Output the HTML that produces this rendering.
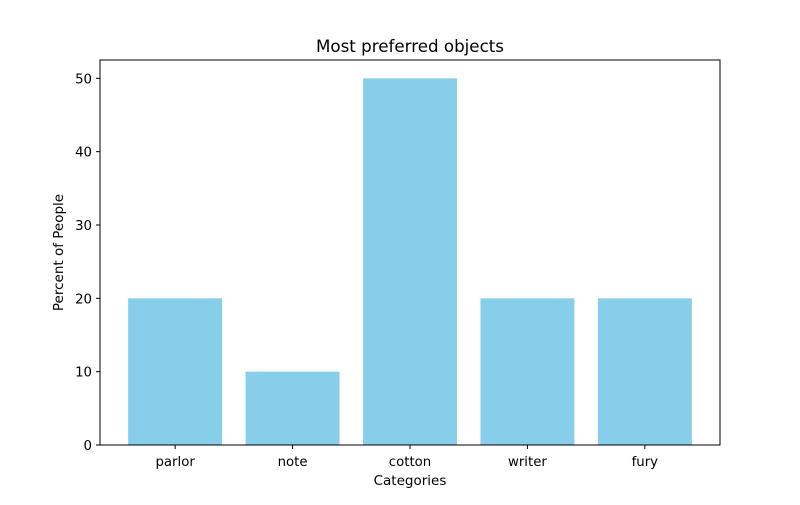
<!DOCTYPE html>
<html><head><meta charset="utf-8"><style>
body{margin:0;background:#fff;}
svg text{font-family:"DejaVu Sans","Liberation Sans",sans-serif;fill:#000;}
</style></head><body>
<svg id="chart" width="800" height="500">
<rect width="800" height="500" fill="#fff"/>
<text x="410" y="52" font-size="16.7" text-anchor="middle">Most preferred objects</text>
<text x="410" y="485" font-size="13.5" text-anchor="middle">Categories</text>
<text transform="translate(63,252.5) rotate(-90)" font-size="13.5" text-anchor="middle">Percent of People</text>
<g id="bars"></g>
<g id="ticks"></g>
<rect x="100" y="60" width="620" height="385" fill="none" stroke="#000" stroke-width="1"/>
</svg>
<script>
const categories = ["parlor","note","cotton","writer","fury"];
const values = [20,10,50,20,20];
const yTicks = [0,10,20,30,40,50];

const L=100,R=720,T=60,B=445;
const ymax=Math.max(...values)*1.05;
const xmin=-0.64,xmax=categories.length-1+0.64;
const xs=v=>L+(v-xmin)/(xmax-xmin)*(R-L);
const ys=v=>B-v/ymax*(B-T);
const NS="http://www.w3.org/2000/svg";
const bars=document.getElementById('bars'), ticks=document.getElementById('ticks');
const bw=0.8*(R-L)/(xmax-xmin);
categories.forEach((c,i)=>{
  const r=document.createElementNS(NS,'rect');
  r.setAttribute('x',xs(i)-bw/2);r.setAttribute('y',ys(values[i]));
  r.setAttribute('width',bw);r.setAttribute('height',B-ys(values[i]));
  r.setAttribute('fill','#87ceeb');
  
  
  bars.appendChild(r);
  const l=document.createElementNS(NS,'line');
  l.setAttribute('x1',xs(i));l.setAttribute('x2',xs(i));l.setAttribute('y1',B);l.setAttribute('y2',B+4);l.setAttribute('stroke','#000');
  ticks.appendChild(l);
  const t=document.createElementNS(NS,'text');
  t.setAttribute('x',xs(i));t.setAttribute('y',B+21);t.setAttribute('font-size','13.3');t.setAttribute('text-anchor','middle');
  t.textContent=c;
  
  
  ticks.appendChild(t);
});
yTicks.forEach(v=>{
  const l=document.createElementNS(NS,'line');
  l.setAttribute('x1',L-4);l.setAttribute('x2',L);l.setAttribute('y1',ys(v));l.setAttribute('y2',ys(v));l.setAttribute('stroke','#000');
  ticks.appendChild(l);
  const t=document.createElementNS(NS,'text');
  t.setAttribute('x',L-8);t.setAttribute('y',ys(v)+5);t.setAttribute('font-size','13.3');t.setAttribute('text-anchor','end');
  t.textContent=v;
  
  
  ticks.appendChild(t);
});
</script>
</body></html>
